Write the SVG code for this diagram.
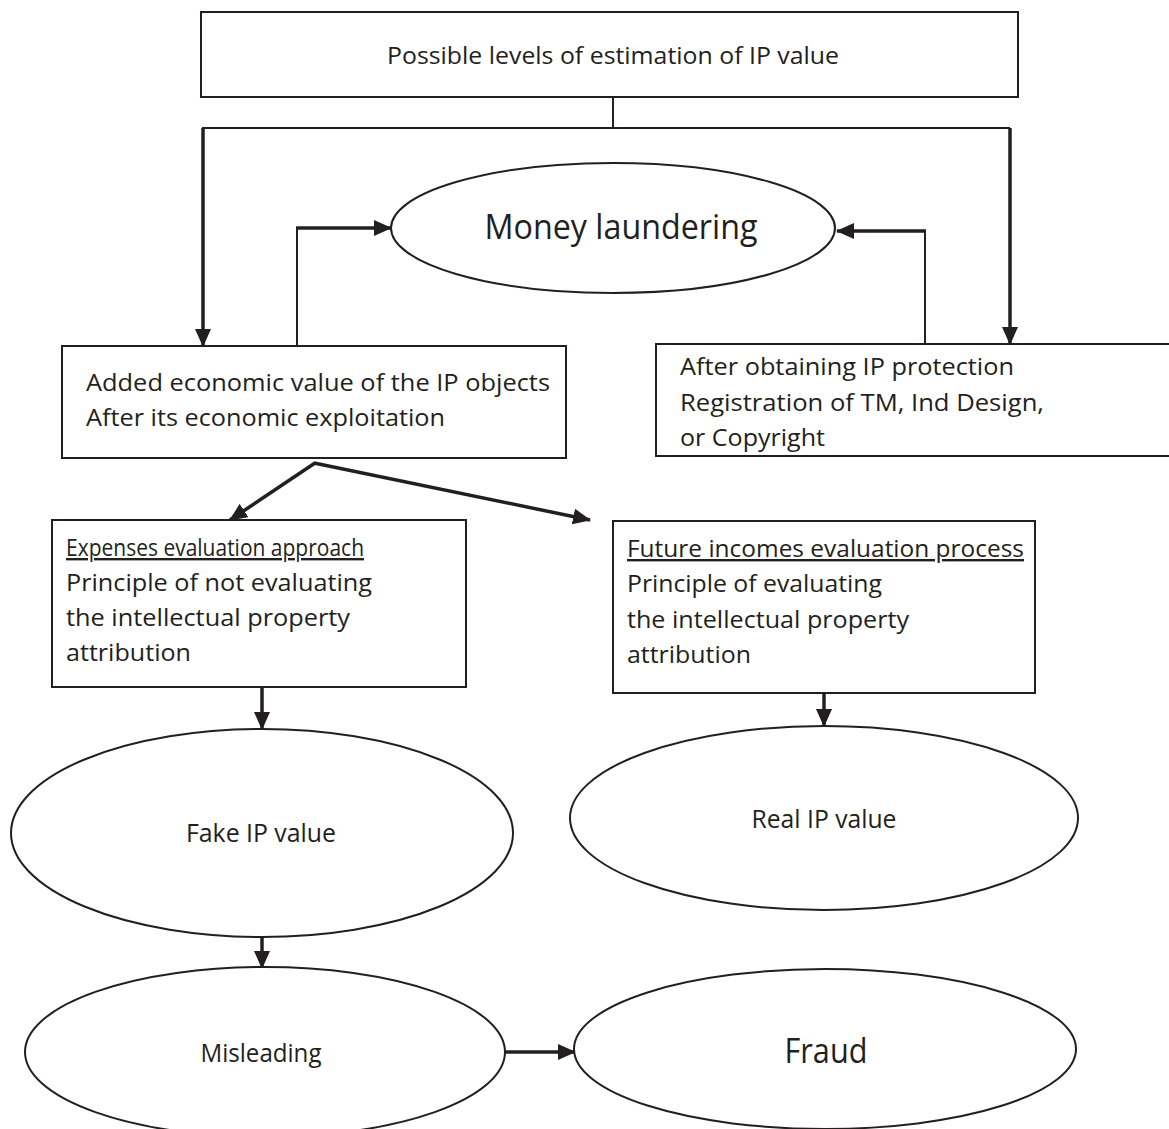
<svg xmlns="http://www.w3.org/2000/svg" width="1169" height="1129" viewBox="0 0 1169 1129">
  <style>
    .box { fill: #fff; stroke: #231f20; stroke-width: 2; }
    .oval { fill: #fff; stroke: #231f20; stroke-width: 2; }
    .t { font-family: "Open Sans", "Noto Sans", sans-serif; fill: #231f20; }
    .lbl { font-size: 24px; }
    .top { font-size: 24px; }
    .big { font-size: 35px; }
    .mid { font-size: 26px; }
    .u { text-decoration: underline; }
    .thin { fill: none; stroke: #231f20; stroke-width: 2; }
    .arr { fill: none; stroke: #231f20; stroke-width: 3.5; marker-end: url(#head); }
  </style>
  <defs>
    <marker id="head" markerUnits="userSpaceOnUse" markerWidth="18" markerHeight="16" refX="17" refY="8" orient="auto">
      <path d="M0,0 L18,8 L0,16 Z" fill="#231f20"/>
    </marker>
  </defs>
  <rect width="1169" height="1129" fill="#fff"/>

  <!-- connectors -->
  <g id="connectors">
    <path class="thin" d="M613,97 V128"/>
    <path class="thin" d="M202,128 H1010"/>
    <path class="arr" d="M203,128 V346"/>
    <path class="arr" d="M1010,128 V344"/>
    <path class="thin" d="M297,346 V228 H375"/>
    <path class="arr" d="M296,228 H391"/>
    <path class="thin" d="M925,344 V231 H850"/>
    <path class="arr" d="M926,231 H837"/>
    <path class="arr" d="M315,463 L230,520"/>
    <path class="arr" d="M314,463 L590,520"/>
    <path class="arr" d="M262,687 V729"/>
    <path class="arr" d="M824,693 V726"/>
    <path class="arr" d="M262,937 V968"/>
    <path class="arr" d="M505,1052 H575"/>
  </g>

  <g id="n-levels">
    <rect class="box" x="201" y="12" width="817" height="85"/>
    <text class="t top" x="613" y="64" text-anchor="middle" textLength="452" lengthAdjust="spacingAndGlyphs">Possible levels of estimation of IP value</text>
  </g>

  <g id="n-money">
    <ellipse class="oval" cx="613" cy="228" rx="222" ry="65"/>
    <text class="t big" x="621" y="239" text-anchor="middle" textLength="273" lengthAdjust="spacingAndGlyphs">Money laundering</text>
  </g>

  <g id="n-added">
    <rect class="box" x="62" y="346" width="504" height="112"/>
    <text class="t lbl" x="86" y="391" textLength="464" lengthAdjust="spacingAndGlyphs">Added economic value of the IP objects</text>
    <text class="t lbl" x="86" y="426" textLength="359" lengthAdjust="spacingAndGlyphs">After its economic exploitation</text>
  </g>

  <g id="n-protection">
    <rect class="box" x="656" y="344" width="520" height="112"/>
    <text class="t lbl" x="680" y="375" textLength="334" lengthAdjust="spacingAndGlyphs">After obtaining IP protection</text>
    <text class="t lbl" x="680" y="411" textLength="364" lengthAdjust="spacingAndGlyphs">Registration of TM, Ind Design,</text>
    <text class="t lbl" x="680" y="446" textLength="145" lengthAdjust="spacingAndGlyphs">or Copyright</text>
  </g>

  <g id="n-expenses">
    <rect class="box" x="52" y="520" width="414" height="167"/>
    <text class="t lbl u" x="66" y="556" textLength="298" lengthAdjust="spacingAndGlyphs">Expenses evaluation approach</text>
    <text class="t lbl" x="66" y="591" textLength="306" lengthAdjust="spacingAndGlyphs">Principle of not evaluating</text>
    <text class="t lbl" x="66" y="626" textLength="284" lengthAdjust="spacingAndGlyphs">the intellectual property</text>
    <text class="t lbl" x="66" y="661" textLength="125" lengthAdjust="spacingAndGlyphs">attribution</text>
  </g>

  <g id="n-future">
    <rect class="box" x="613" y="521" width="422" height="172"/>
    <text class="t lbl u" x="627" y="557" textLength="397" lengthAdjust="spacingAndGlyphs">Future incomes evaluation process</text>
    <text class="t lbl" x="627" y="592" textLength="255" lengthAdjust="spacingAndGlyphs">Principle of evaluating</text>
    <text class="t lbl" x="627" y="628" textLength="282" lengthAdjust="spacingAndGlyphs">the intellectual property</text>
    <text class="t lbl" x="627" y="663" textLength="124" lengthAdjust="spacingAndGlyphs">attribution</text>
  </g>

  <g id="n-fake">
    <ellipse class="oval" cx="262" cy="833" rx="251" ry="104"/>
    <text class="t mid" x="261" y="842" text-anchor="middle" textLength="150" lengthAdjust="spacingAndGlyphs">Fake IP value</text>
  </g>

  <g id="n-real">
    <ellipse class="oval" cx="824" cy="818" rx="254" ry="92"/>
    <text class="t mid" x="824" y="828" text-anchor="middle" textLength="145" lengthAdjust="spacingAndGlyphs">Real IP value</text>
  </g>

  <g id="n-misleading">
    <ellipse class="oval" cx="265" cy="1052" rx="240" ry="85"/>
    <text class="t mid" x="261" y="1062" text-anchor="middle" textLength="121" lengthAdjust="spacingAndGlyphs">Misleading</text>
  </g>

  <g id="n-fraud">
    <ellipse class="oval" cx="825" cy="1049" rx="251" ry="80"/>
    <text class="t big" x="826" y="1063" text-anchor="middle" textLength="83" lengthAdjust="spacingAndGlyphs">Fraud</text>
  </g>
</svg>
